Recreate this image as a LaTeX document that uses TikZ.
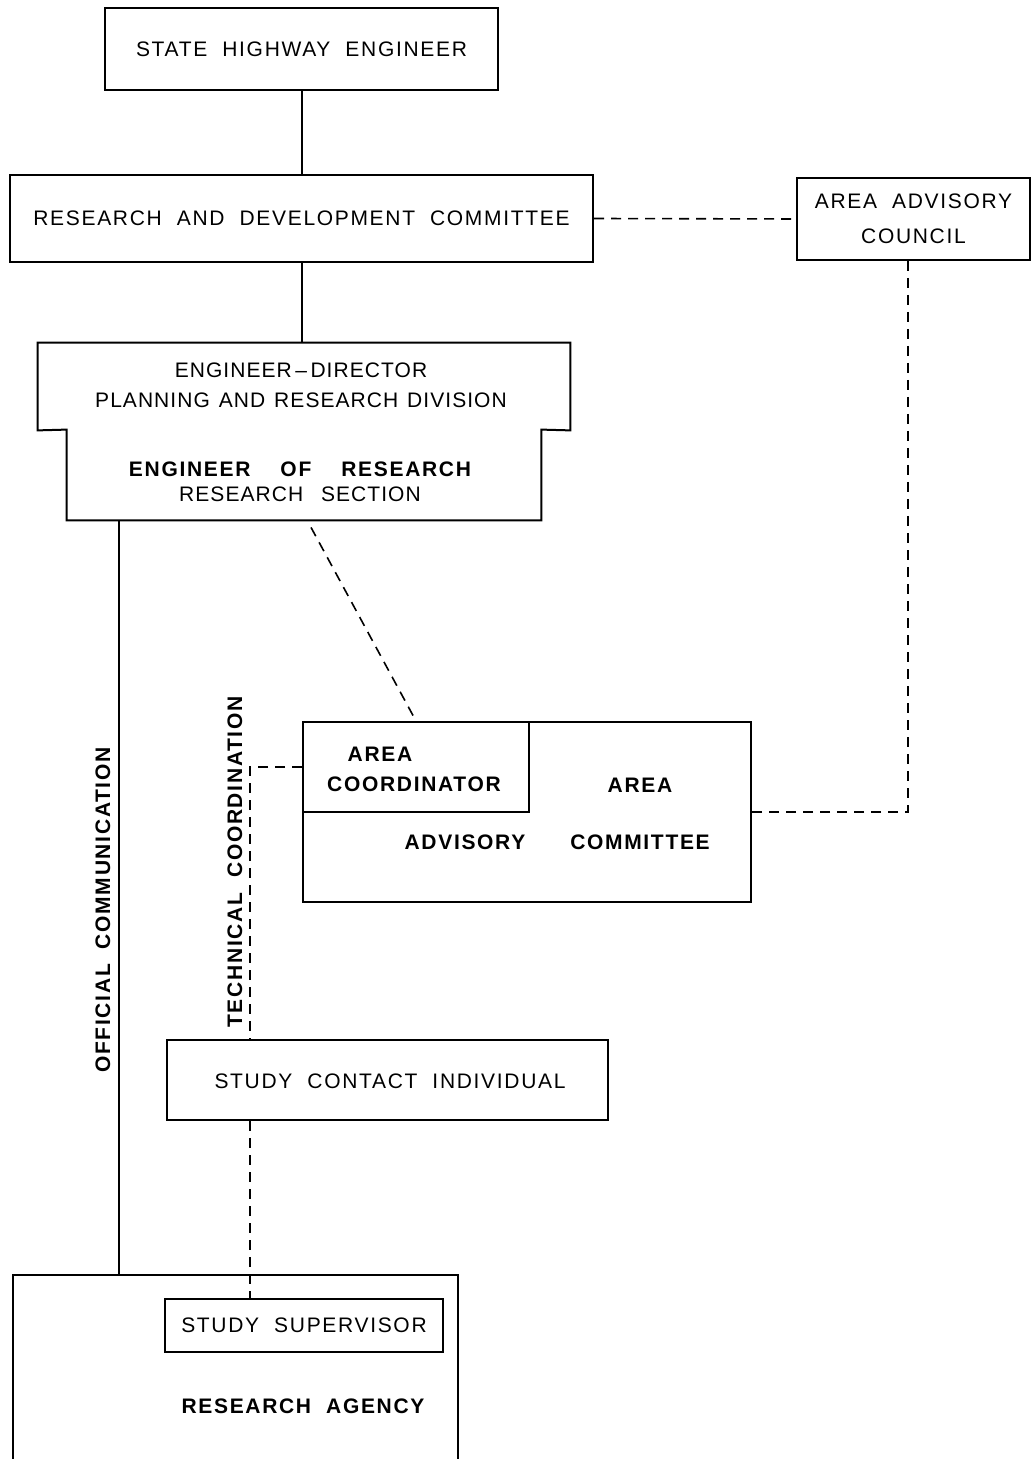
\documentclass[tikz,border=0pt]{standalone}
\usepackage{fontspec}
\setmainfont{Liberation Sans}[LetterSpace=8,WordSpace=2]
\newfontfamily\tightfont{Liberation Sans}[LetterSpace=5,WordSpace=1.3]
\usetikzlibrary{calc,positioning}
\tikzset{
  box/.style={
    rectangle,
    draw=black, line width=1pt,
    inner sep=0pt},
  plain/.style={
    rectangle,
    inner sep=0pt},
  lettering/.style={
    font=\fontsize{10.5}{15}\selectfont,
    align=center,
    inner sep=0pt},
  heavy/.style={
    font=\fontsize{10.5}{15}\selectfont\bfseries,
    align=center,
    inner sep=0pt},
}

\begin{document}
\begin{tikzpicture}[
    x=0.5pt, y=-0.5pt,
    important line/.style={line width=1pt},
    dashed line/.style={line width=0.8pt, dash pattern=on 5pt off 3.5pt},
    every node/.style={color=black}
    ]
    \useasboundingbox (0,0) rectangle (1036,1459);

    %top of the chart
    \node[box, lettering, minimum width=196.5pt, minimum height=41pt] (she)
        at (301.5,49) {STATE HIGHWAY ENGINEER};
    \node[box, lettering, minimum width=291.5pt, minimum height=43.5pt] (rdc)
        at (301.5,218.5) {RESEARCH AND DEVELOPMENT COMMITTEE};
    \node[box, minimum width=116.5pt, minimum height=41pt] (aac)
        at (913.5,219) {};
    \node[lettering, font=\fontsize{10.5}{17.5}\selectfont] (aactext)
        at (aac.center) {AREA ADVISORY\\COUNCIL};

    %engineer-director block
    \node[plain, minimum width=266pt, minimum height=43.5pt] (ed) at (304,386.5) {};
    \node[plain, minimum width=237pt, minimum height=45pt] (er) at (304,475) {};
    \draw[important line] (ed.north west) -- (ed.north east) -- (ed.south east)
        -- (er.north east) -- (er.south east) -- (er.south west)
        -- (er.north west) -- (ed.south west) -- cycle;
    \node[lettering, font=\fontsize{10.5}{15}\selectfont\tightfont] (edtext)
        at (301,385) {ENGINEER\,\textendash\,DIRECTOR\\PLANNING AND RESEARCH DIVISION};
    \node[heavy, font=\fontsize{10.5}{12.5}\selectfont\bfseries] (ertext)
        at (300,482) {ENGINEER \ OF \ RESEARCH\\\mdseries\tightfont RESEARCH \ SECTION};

    %area advisory committee
    \node[box, minimum width=224pt, minimum height=90pt] (ac) at (527,812) {};
    \node[box, minimum width=113pt, minimum height=45pt] (aco) at (416,767) {};
    \node[heavy] (acoa) at (380,754) {AREA};
    \node[heavy] (acob) at (414,784) {COORDINATOR};
    \node[heavy] (aca) at (640,785) {AREA};
    \node[heavy] (acb) at (465,842) {ADVISORY};
    \node[heavy] (acc) at (640,842) {COMMITTEE};

    %study contact and agency
    \node[box, lettering, minimum width=220.5pt, minimum height=40pt] (sci)
        at (387.5,1080) {};
    \node[lettering] (scitext) at (390,1081) {STUDY CONTACT INDIVIDUAL};
    \node[plain, minimum width=222.5pt, minimum height=92pt] (ra) at (235.5,1367) {};
    \draw[important line] (ra.south west) -- (ra.north west) -- (ra.north east) -- (ra.south east);
    \node[box, lettering, minimum width=139pt, minimum height=26.5pt] (ss)
        at (304,1325.5) {STUDY SUPERVISOR};
    \node[heavy] (ratext) at (303,1406) {RESEARCH AGENCY};

    %connections
    \coordinate (oc) at (119,1275);
    \coordinate (tc) at (250,1040);

    \draw[important line] (she.south) -- (rdc.north);
    \draw[important line] (rdc.south) -- (rdc.south |- ed.north);
    \draw[important line] (er.south -| oc) -- (oc);

    \draw[dashed line] (rdc.east) -- (aac.west);
    \draw[dashed line] (aac.south -| 908,0) -- (908,812) -- (ac.east);
    \draw[dashed line] ($(er.south)+(7,7)$) -- (aco.north);
    \draw[dashed line] (aco.west) -| (tc);
    \draw[dashed line] (tc |- sci.south) -- (tc |- ss.north);

    %labels on the lines
    \node[heavy, rotate=90] (offc) at (103,910) {OFFICIAL COMMUNICATION};
    \node[heavy, rotate=90] (techc) at (235,862) {TECHNICAL COORDINATION};

\end{tikzpicture}
\end{document}
